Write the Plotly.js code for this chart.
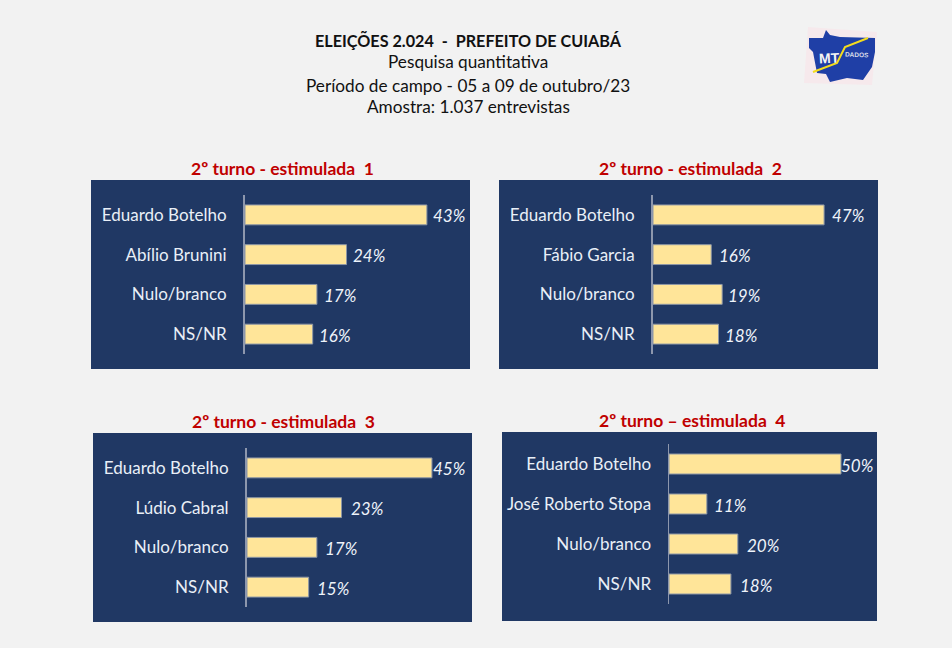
<!DOCTYPE html>
<html>
<head>
<meta charset="utf-8">
<script src="https://cdn.plot.ly/plotly-3.0.1.min.js"></script>
<style>html,body{margin:0;padding:0;background:#f2f2f2}</style>
</head>
<body>
<div id="chart" style="width:952px;height:648px"></div>
<script>
const W = 952, H = 648;

const titles = ['2º turno - estimulada  1', '2º turno - estimulada  2', '2º turno - estimulada  3', '2º turno – estimulada  4'];
const cats1 = ['Eduardo Botelho', 'Abílio Brunini', 'Nulo/branco', 'NS/NR'];
const cats2 = ['Eduardo Botelho', 'Fábio Garcia', 'Nulo/branco', 'NS/NR'];
const cats3 = ['Eduardo Botelho', 'Lúdio Cabral', 'Nulo/branco', 'NS/NR'];
const cats4 = ['Eduardo Botelho', 'José Roberto Stopa', 'Nulo/branco', 'NS/NR'];
const vals1 = [43, 24, 17, 16];
const vals2 = [47, 16, 19, 18];
const vals3 = [45, 23, 17, 15];
const vals4 = [50, 11, 20, 18];

const allCats = [cats1, cats2, cats3, cats4];
const allVals = [vals1, vals2, vals3, vals4];

// panel boxes in pixels: left, right, top, bottom, axis x, axis top, axis bottom, pixels per percent
// gaps = space between bar end and its label, tx = panel title centre
const panels = [
  { l: 91, r: 470, t: 180, b: 369, ax: 245, at: 195, ab: 354, ppp: 4.23, tx: 282, gaps: [4, 4, 5, 4] },
  { l: 499, r: 878, t: 180, b: 369, ax: 653, at: 195, ab: 354, ppp: 3.64, tx: 690, gaps: [6, 6, 4, 4] },
  { l: 93, r: 472, t: 433, b: 622, ax: 247, at: 448, ab: 607, ppp: 4.11, tx: 283, gaps: [-1, 7, 6, 6] },
  { l: 502, r: 877, t: 432, b: 621, ax: 669, at: 444, ab: 604, ppp: 3.44, tx: 692, gaps: [-2, 5, 7, 7] }
];

const font = 'Lato, "Open Sans", sans-serif';
const px = x => x / W;
const py = y => 1 - y / H;

const traces = [];
const shapes = [];
const annotations = [];
const layout = {
  width: W, height: H,
  margin: { l: 0, r: 0, t: 0, b: 0 },
  paper_bgcolor: '#f2f2f2',
  plot_bgcolor: 'rgba(0,0,0,0)',
  showlegend: false,
  font: { family: font },
  bargap: 0.5
};

function addText(x, y, text, size, color, extra) {
  annotations.push(Object.assign({
    xref: 'paper', yref: 'paper', x: px(x), y: py(y),
    xanchor: 'center', yanchor: 'middle',
    text: text, showarrow: false,
    font: { family: font, size: size, color: color }
  }, extra || {}));
}

panels.forEach((p, i) => {
  const n = i === 0 ? '' : String(i + 1);
  traces.push({
    type: 'bar', orientation: 'h',
    x: allVals[i], y: allCats[i],
    xaxis: 'x' + n, yaxis: 'y' + n,
    marker: { color: '#ffe599', line: { color: '#8d97a6', width: 1 } },
    hoverinfo: 'skip'
  });
  layout['xaxis' + n] = {
    domain: [px(p.ax), px(p.r)],
    range: [0, (p.r - p.ax) / p.ppp],
    visible: false, fixedrange: true, anchor: 'y' + n
  };
  layout['yaxis' + n] = {
    domain: [py(p.ab), py(p.at)],
    type: 'category', autorange: 'reversed',
    anchor: 'x' + n,
    showline: true, linecolor: '#8d97ad', linewidth: i === 3 ? 1.5 : 2,
    showgrid: false, zeroline: false,
    ticks: 'outside', ticklen: 13, tickcolor: 'rgba(0,0,0,0)',
    tickfont: { family: font, size: 17, color: '#e9eff7' },
    fixedrange: true
  };
  shapes.push({
    type: 'rect', xref: 'paper', yref: 'paper', layer: 'below',
    x0: px(p.l), x1: px(p.r), y0: py(p.b), y1: py(p.t),
    fillcolor: '#203864', line: { width: 0 }
  });
  addText(p.tx, p.t - 12, '<b>' + titles[i] + '</b>', 17.5, '#c00000');
  allVals[i].forEach((v, j) => {
    annotations.push({
      xref: 'x' + n, yref: 'y' + n, x: v, y: allCats[i][j],
      text: '<i>' + v + '%</i>', showarrow: false,
      xanchor: 'left', yanchor: 'middle', xshift: p.gaps[j], yshift: -1,
      font: { family: font, size: 17, color: '#eef3fa' }
    });
  });
});

// header
addText(468, 40, '<b>ELEIÇÕES 2.024  -  PREFEITO DE CUIABÁ</b>', 16.2, '#111111');
addText(468, 62, 'Pesquisa quantitativa', 17.2, '#111111');
addText(468, 85, 'Período de campo - 05 a 09 de outubro/23', 17.2, '#111111');
addText(468, 107, 'Amostra: 1.037 entrevistas', 17.2, '#111111');

// logo
const pathOf = pts => 'M' + pts.map(q => px(q[0]) + ',' + py(q[1])).join('L');
shapes.push({
  type: 'path', xref: 'paper', yref: 'paper', layer: 'below',
  path: pathOf([[808, 27], [877, 32], [872, 85], [804, 83]]) + 'Z',
  fillcolor: '#f6e9ec', line: { width: 0 }
});
shapes.push({
  type: 'path', xref: 'paper', yref: 'paper', layer: 'below',
  path: pathOf([[826, 30], [830, 35], [840, 37], [875, 38], [875, 52], [872, 67], [863, 80], [847, 78], [830, 82], [826, 74], [817, 73], [813, 52], [809, 48], [809, 38], [823, 38]]) + 'Z',
  fillcolor: '#1f3fa6', line: { width: 0 }
});
shapes.push({
  type: 'path', xref: 'paper', yref: 'paper', layer: 'below',
  path: pathOf([[813, 72], [837, 63], [845, 47], [868, 38]]),
  line: { color: '#f4dc1e', width: 2 }
});
addText(829, 58, '<b>MT</b>', 14, '#f4f4f4', { textangle: -3, font: { family: 'Liberation Sans, sans-serif', size: 14, color: '#f4f4f4' } });
addText(857, 54, '<b>DADOS</b>', 6.5, '#d8dce8', { textangle: 2, font: { family: 'Liberation Sans, sans-serif', size: 6.5, color: '#d8dce8' } });

layout.shapes = shapes;
layout.annotations = annotations;

Plotly.newPlot('chart', traces, layout, { displayModeBar: false, staticPlot: true });
</script>
</body>
</html>
